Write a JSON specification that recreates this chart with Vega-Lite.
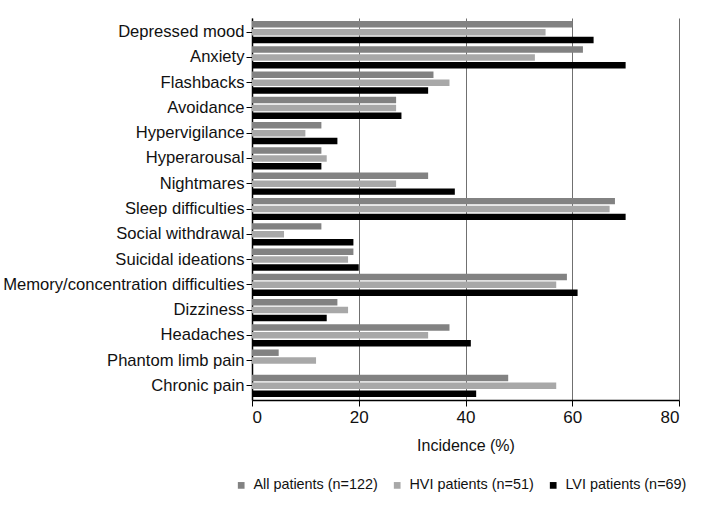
{
  "$schema": "https://vega.github.io/schema/vega-lite/v6.json",
  "width": 427,
  "height": 382,
  "padding": {"top": 18, "left": 2, "right": 5, "bottom": 5},
  "background": "white",
  "config": {
    "font": "Liberation Sans",
    "view": {"stroke": null}
  },
  "data": {
    "values": [
      {"symptom": "Depressed mood", "group": "All patients (n=122)", "value": 60},
      {"symptom": "Depressed mood", "group": "HVI patients (n=51)", "value": 55},
      {"symptom": "Depressed mood", "group": "LVI patients (n=69)", "value": 64},
      {"symptom": "Anxiety", "group": "All patients (n=122)", "value": 62},
      {"symptom": "Anxiety", "group": "HVI patients (n=51)", "value": 53},
      {"symptom": "Anxiety", "group": "LVI patients (n=69)", "value": 70},
      {"symptom": "Flashbacks", "group": "All patients (n=122)", "value": 34},
      {"symptom": "Flashbacks", "group": "HVI patients (n=51)", "value": 37},
      {"symptom": "Flashbacks", "group": "LVI patients (n=69)", "value": 33},
      {"symptom": "Avoidance", "group": "All patients (n=122)", "value": 27},
      {"symptom": "Avoidance", "group": "HVI patients (n=51)", "value": 27},
      {"symptom": "Avoidance", "group": "LVI patients (n=69)", "value": 28},
      {"symptom": "Hypervigilance", "group": "All patients (n=122)", "value": 13},
      {"symptom": "Hypervigilance", "group": "HVI patients (n=51)", "value": 10},
      {"symptom": "Hypervigilance", "group": "LVI patients (n=69)", "value": 16},
      {"symptom": "Hyperarousal", "group": "All patients (n=122)", "value": 13},
      {"symptom": "Hyperarousal", "group": "HVI patients (n=51)", "value": 14},
      {"symptom": "Hyperarousal", "group": "LVI patients (n=69)", "value": 13},
      {"symptom": "Nightmares", "group": "All patients (n=122)", "value": 33},
      {"symptom": "Nightmares", "group": "HVI patients (n=51)", "value": 27},
      {"symptom": "Nightmares", "group": "LVI patients (n=69)", "value": 38},
      {"symptom": "Sleep difficulties", "group": "All patients (n=122)", "value": 68},
      {"symptom": "Sleep difficulties", "group": "HVI patients (n=51)", "value": 67},
      {"symptom": "Sleep difficulties", "group": "LVI patients (n=69)", "value": 70},
      {"symptom": "Social withdrawal", "group": "All patients (n=122)", "value": 13},
      {"symptom": "Social withdrawal", "group": "HVI patients (n=51)", "value": 6},
      {"symptom": "Social withdrawal", "group": "LVI patients (n=69)", "value": 19},
      {"symptom": "Suicidal ideations", "group": "All patients (n=122)", "value": 19},
      {"symptom": "Suicidal ideations", "group": "HVI patients (n=51)", "value": 18},
      {"symptom": "Suicidal ideations", "group": "LVI patients (n=69)", "value": 20},
      {"symptom": "Memory/concentration difficulties", "group": "All patients (n=122)", "value": 59},
      {"symptom": "Memory/concentration difficulties", "group": "HVI patients (n=51)", "value": 57},
      {"symptom": "Memory/concentration difficulties", "group": "LVI patients (n=69)", "value": 61},
      {"symptom": "Dizziness", "group": "All patients (n=122)", "value": 16},
      {"symptom": "Dizziness", "group": "HVI patients (n=51)", "value": 18},
      {"symptom": "Dizziness", "group": "LVI patients (n=69)", "value": 14},
      {"symptom": "Headaches", "group": "All patients (n=122)", "value": 37},
      {"symptom": "Headaches", "group": "HVI patients (n=51)", "value": 33},
      {"symptom": "Headaches", "group": "LVI patients (n=69)", "value": 41},
      {"symptom": "Phantom limb pain", "group": "All patients (n=122)", "value": 5},
      {"symptom": "Phantom limb pain", "group": "HVI patients (n=51)", "value": 12},
      {"symptom": "Phantom limb pain", "group": "LVI patients (n=69)", "value": 0},
      {"symptom": "Chronic pain", "group": "All patients (n=122)", "value": 48},
      {"symptom": "Chronic pain", "group": "HVI patients (n=51)", "value": 57},
      {"symptom": "Chronic pain", "group": "LVI patients (n=69)", "value": 42}
    ]
  },
  "mark": {"type": "bar"},
  "encoding": {
    "y": {
      "field": "symptom",
      "type": "nominal",
      "sort": ["Depressed mood", "Anxiety", "Flashbacks", "Avoidance", "Hypervigilance", "Hyperarousal", "Nightmares", "Sleep difficulties", "Social withdrawal", "Suicidal ideations", "Memory/concentration difficulties", "Dizziness", "Headaches", "Phantom limb pain", "Chronic pain"],
      "scale": {"paddingInner": 0.12, "paddingOuter": 0.12},
      "axis": {
        "title": null,
        "labelFontSize": 16.6,
        "labelColor": "#111",
        "labelPadding": 2,
        "tickSize": 6,
        "tickColor": "#000",
        "domainColor": "#000",
        "domainWidth": 1.5,
        "labelLimit": 400
      }
    },
    "yOffset": {
      "field": "group",
      "type": "nominal",
      "sort": ["All patients (n=122)", "HVI patients (n=51)", "LVI patients (n=69)"],
      "scale": {"paddingInner": 0.18}
    },
    "x": {
      "field": "value",
      "type": "quantitative",
      "scale": {"domain": [0, 80], "nice": false},
      "axis": {
        "title": "Incidence (%)",
        "titleFontSize": 16,
        "titleFontWeight": "normal",
        "titleColor": "#111",
        "titlePadding": 12,
        "values": [0, 20, 40, 60, 80],
        "labelFontSize": 17,
        "labelColor": "#111",
        "labelPadding": 3,
        "tickSize": 6,
        "tickColor": "#000",
        "domainColor": "#000",
        "domainWidth": 1.5,
        "grid": true,
        "gridColor": "#707070",
        "gridWidth": 1
      }
    },
    "color": {
      "field": "group",
      "type": "nominal",
      "scale": {
        "domain": ["All patients (n=122)", "HVI patients (n=51)", "LVI patients (n=69)"],
        "range": ["#828282", "#a8a8a8", "#000000"]
      },
      "legend": {
        "title": null,
        "orient": "none",
        "legendX": -18,
        "legendY": 460,
        "direction": "horizontal",
        "symbolType": "square",
        "symbolSize": 45,
        "symbolStrokeWidth": 0,
        "labelFontSize": 14.4,
        "labelOffset": 5,
        "labelColor": "#111",
        "columnPadding": 12
      }
    }
  }
}
